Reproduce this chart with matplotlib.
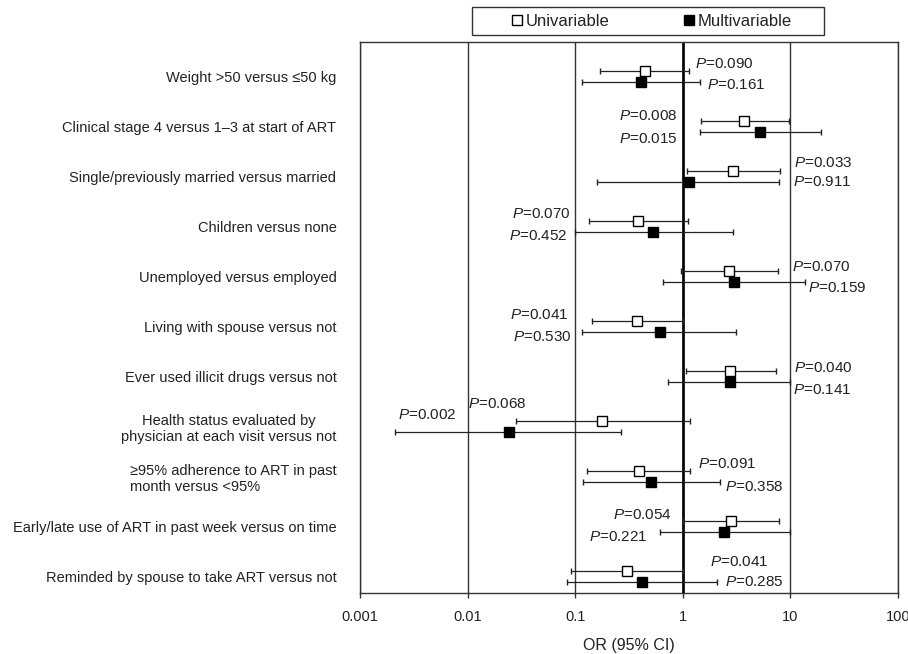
import numpy as np
import matplotlib
matplotlib.use('Agg')
import matplotlib.pyplot as plt
from matplotlib.patches import Rectangle
from matplotlib.lines import Line2D
from matplotlib.ticker import FixedLocator, FixedFormatter, NullLocator

plt.rcParams['font.family'] = ['Liberation Sans', 'DejaVu Sans']
plt.rcParams['mathtext.fontset'] = 'custom'
plt.rcParams['mathtext.it'] = 'Liberation Sans:italic'
plt.rcParams['mathtext.rm'] = 'Liberation Sans'

# factors, top to bottom
factors = [
    'Weight >50 versus \u226450 kg',
    'Clinical stage 4 versus 1\u20133 at start of ART',
    'Single/previously married versus married',
    'Children versus none',
    'Unemployed versus employed',
    'Living with spouse versus not',
    'Ever used illicit drugs versus not',
    'Health status evaluated by\nphysician at each visit versus not',
    '\u226595% adherence to ART in past\nmonth versus <95%',
    'Early/late use of ART in past week versus on time',
    'Reminded by spouse to take ART versus not',
]
label_align = ['right'] * 7 + ['center', 'left', 'right', 'right']

# univariable OR and 95% CI
uni_or = [0.45, 3.7, 2.93, 0.385, 2.67, 0.378, 2.74, 0.178, 0.395, 2.8, 0.30]
uni_lo = [0.17, 1.48, 1.10, 0.134, 0.96, 0.144, 1.06, 0.028, 0.129, 1.01, 0.092]
uni_hi = [1.14, 9.8, 8.0, 1.12, 7.6, 1.0, 7.3, 1.17, 1.17, 7.9, 1.0]
uni_p = ['0.090', '0.008', '0.033', '0.070', '0.070', '0.041',
         '0.040', '0.068', '0.091', '0.054', '0.041']

# multivariable OR and 95% CI
multi_or = [0.41, 5.2, 1.13, 0.53, 2.98, 0.61, 2.74, 0.024, 0.505, 2.41, 0.42]
multi_lo = [0.116, 1.45, 0.16, 0.1, 0.66, 0.116, 0.735, 0.0021, 0.119, 0.61, 0.084]
multi_hi = [1.46, 19.2, 7.9, 2.95, 13.7, 3.1, 9.9, 0.264, 2.21, 9.9, 2.1]
multi_p = ['0.161', '0.015', '0.911', '0.452', '0.159', '0.530',
           '0.141', '0.002', '0.358', '0.221', '0.285']

xticks = [0.001, 0.01, 0.1, 1, 10, 100]
xtick_labels = ['0.001', '0.01', '0.1', '1', '10', '100']

# where the P labels sit: side of the CI, then pixel nudges
uni_side = ['r', 'l', 'r', 'l', 'r', 'l', 'r', 'l', 'r', 'l', 'r']
uni_dx = [6, -24, 14, -18, 14, -24, 18, 11, 8, -12, 27]
uni_dy = [-7, -5, -8, -7, -4, -6, -3, -17, -7, -6, -9]
multi_side = ['r', 'l', 'r', 'l', 'r', 'l', 'r', 'a', 'r', 'l', 'r']
multi_dx = [7, -23, 14, -8, 3, -10, 3, 3, 5, -12, 8]
multi_dy = [3, 7, 0, 4, 6, 5, 8, -17, 5, 5, 0]

TXT = '#222222'
rows = np.arange(len(factors))
y_uni = rows - 0.11
y_multi = rows + 0.11

fig = plt.figure(figsize=(9.08, 6.54), dpi=100)
ax = fig.add_axes([360 / 908, 61 / 654, 538 / 908, 551 / 654])

ax.set_xscale('log')
ax.set_xlim(0.001, 100)
ax.set_ylim(10.34, -0.684)

ax.grid(axis='x', color='#333333', linewidth=1.0)
ax.set_axisbelow(True)
ax.axvline(1, color='black', linewidth=1.9, zorder=1)

uni_or_a = np.array(uni_or)
multi_or_a = np.array(multi_or)
ax.errorbar(uni_or_a, y_uni,
            xerr=[uni_or_a - np.array(uni_lo), np.array(uni_hi) - uni_or_a],
            fmt='s', ms=6.5, mfc='white', mec='black', mew=1.0,
            ecolor='#222222', elinewidth=0.9, capsize=2.4, capthick=0.9, zorder=3)
ax.errorbar(multi_or_a, y_multi,
            xerr=[multi_or_a - np.array(multi_lo), np.array(multi_hi) - multi_or_a],
            fmt='s', ms=6.5, mfc='black', mec='black', mew=1.0,
            ecolor='#222222', elinewidth=0.9, capsize=2.4, capthick=0.9, zorder=3)


def put_p(p, y, lo, hi, side, dx, dy):
    if side == 'r':
        x, ha = hi, 'left'
    elif side == 'l':
        x, ha = lo, 'right'
    else:
        x, ha = lo, 'left'
    ax.annotate(r'$P$=' + p, xy=(x, y), xytext=(dx, -dy),
                textcoords='offset pixels', ha=ha, va='center',
                fontsize=11, color=TXT)


for i in range(len(factors)):
    put_p(uni_p[i], y_uni[i], uni_lo[i], uni_hi[i], uni_side[i], uni_dx[i], uni_dy[i])
    put_p(multi_p[i], y_multi[i], multi_lo[i], multi_hi[i],
          multi_side[i], multi_dx[i], multi_dy[i])

ax.xaxis.set_major_locator(FixedLocator(xticks))
ax.xaxis.set_major_formatter(FixedFormatter(xtick_labels))
ax.xaxis.set_minor_locator(NullLocator())
ax.tick_params(axis='x', direction='out', length=3.5, width=1, pad=9,
               labelsize=10.5, labelcolor=TXT, color='#333333')

ax.set_yticks(rows)
ax.set_yticklabels(factors, fontsize=10.5, color=TXT)
ax.tick_params(axis='y', length=0, pad=17)
for lab, ma in zip(ax.get_yticklabels(), label_align):
    lab.set_multialignment(ma)

ax.set_xlabel('OR (95% CI)', fontsize=11.5, color=TXT, labelpad=10)

for sp in ax.spines.values():
    sp.set_color('#333333')
    sp.set_linewidth(1.0)

# legend above the plot
handles = [
    Line2D([], [], linestyle='none', marker='s', ms=6.5, mfc='white', mec='black', mew=1.0),
    Line2D([], [], linestyle='none', marker='s', ms=6.5, mfc='black', mec='black', mew=1.0),
]
fig.legend(handles, ['Univariable', 'Multivariable'], loc='center',
           bbox_to_anchor=(651 / 908, 1 - 21 / 654), ncol=2, frameon=False,
           handlelength=0.8, handletextpad=0.15, columnspacing=4.35,
           fontsize=12, labelcolor=TXT)
fig.add_artist(Rectangle((472 / 908, 1 - 35 / 654), 352 / 908, 28.3 / 654,
                         transform=fig.transFigure, fill=False,
                         edgecolor='#333333', linewidth=1.0))

fig.savefig('out.png', dpi=100)
